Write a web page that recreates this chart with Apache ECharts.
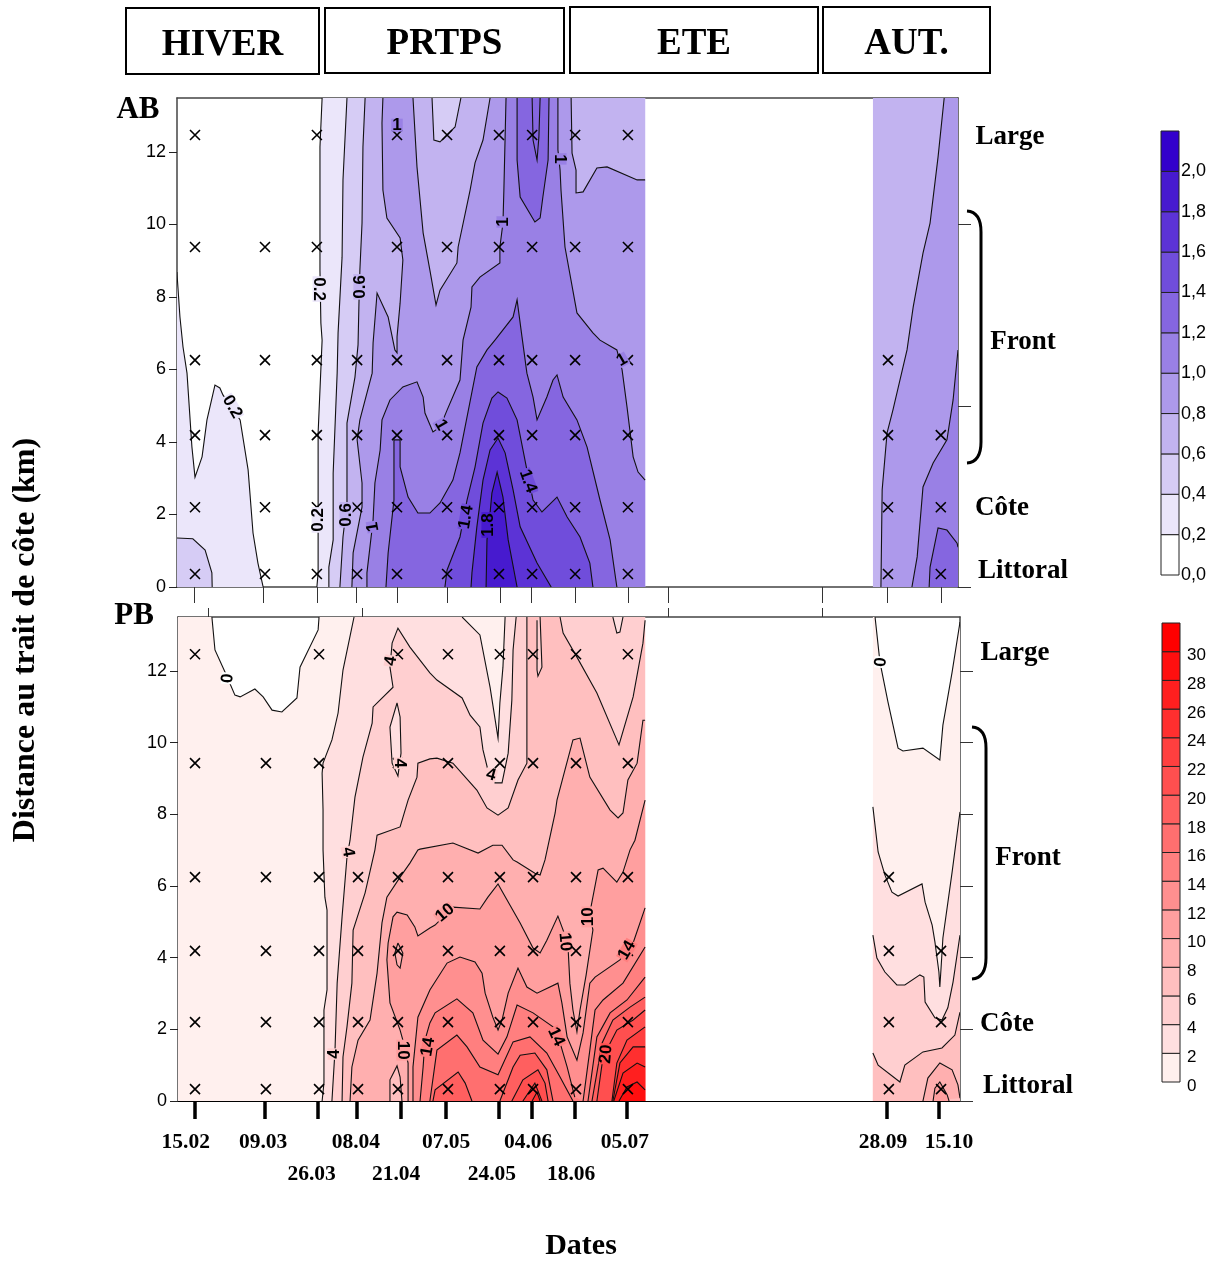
<!DOCTYPE html>
<html><head><meta charset="utf-8">
<style>html,body{margin:0;padding:0;background:#fff}#c{width:1219px;height:1261px}</style>
<script src="https://cdn.jsdelivr.net/npm/echarts@6/dist/echarts.min.js"></script>
</head><body><div id="c"></div>
<script>
// ---------- scales / labels ----------
const abLegendTicks=[0,0.2,0.4,0.6,0.8,1,1.2,1.4,1.6,1.8,2];
const pbLegendTicks=[0,2,4,6,8,10,12,14,16,18,20,22,24,26,28,30];
const abColors=['#ffffff','#ebe6fa','#d6ccf5','#c2b3f0','#ad99eb','#9980e5','#8566e0','#704ddb','#5c33d6','#471acf','#3300cc'];
const pbColors=['#fff0ee','#ffdfe0','#ffcfd0','#ffbfbf','#ffafaf','#ff9f9f','#ff8f8f','#ff7f7f','#ff6f6f','#ff5f5f','#ff4f4f','#ff3f3f','#ff2f2f','#ff1f1f','#ff0f0f','#ff0000'];
const yTicks=[0,2,4,6,8,10,12];
const abRightTicks=[0,5,10];
// day of year of each sampling date
const abTickDays=[45.7,68.2,85.7,98.4,111.8,128.1,145.3,155.4,169.8,187,271.4,289];
const abExtraTicks=[200,250.2];
const pbTopTicks=[50.2,100.4,200,250.2];
const pbTickDays=[46,68.8,86.1,98.8,113.1,127.8,145,155.8,169.8,186.7,271.4,288.3];
const dateRow1=[['15.02',43],['09.03',68.2],['08.04',98.4],['07.05',127.8],['04.06',154.5],['05.07',186],['28.09',270.1],['15.10',291.6]];
const dateRow2=[['26.03',84],['21.04',111.5],['24.05',142.7],['18.06',168.5]];
// stations: day, number of depths sampled (from the coast outwards)
const abStationDays=[46,68.8,85.7,98.8,111.8,128.1,145,155.8,169.8,187,271.7,288.9];
const pbStationDays=[46,69.1,86.4,99.1,112.1,128.4,145.3,156.1,170.1,187,272,289];
const stationDepthCount=[6,5,6,4,6,6,6,6,6,6,4,3];
const abDepths=[0.36,2.2,4.19,6.26,9.38,12.47];
const pbDepths=[0.33,2.2,4.19,6.25,9.43,12.47];

// ---------- AB contours (day, km) ----------
const abTop=13.49,abEnd=192.6,abL=40.14,abR=294.5,abRS=266.8;
const ab02a=[[40.1,8.69],[41.1,7.45],[42.1,6.62],[43.4,5.9],[45,3.86],[46,3.03],[48.3,3.59],[49.9,4.61],[52.5,5.57],[54.1,5.49],[55.1,5.3],[60.7,4.61],[63.3,3.23],[64.9,1.49],[66.5,.66],[68.2,0]];
const ab04a=[[40.1,1.35],[45.3,1.33],[49.3,1.02],[51.5,.39],[51.6,0]];
const ab02=[[87.4,13.49],[86.7,12.14],[86.7,8.74],[87,7.28],[87.4,6.81],[86.1,4.25],[86.1,2.21],[86.1,.39],[85.7,0]];
const ab04=[[95.5,13.49],[94.2,11.23],[93.9,9.1],[92.6,7.01],[92.3,5.9],[91,3.14],[91,1.3],[89.6,.55],[89.6,0]];
const ab06=[[101.4,13.49],[100.7,12.14],[100.4,10.04],[99.7,8.74],[99.4,7.83],[99.1,6.68],[98.1,5.79],[95.5,4.52],[95.5,2.32],[94.2,1.38],[93.2,0]];
const ab06hole=[[123.2,13.49],[123.8,12.33],[125.8,12.28],[130.7,12.69],[132.6,13.49]];
const ab08a=[[107.2,13.49],[106.9,12.8],[107.2,10.95],[108.5,10.18],[112.8,9.63],[113.7,9.02],[112.8,7.83],[111.8,6.9],[111.8,6.46],[111.1,6.54],[108.9,7.45],[105.3,8.11],[104,6.73],[103.7,5.9],[99.7,4.61],[98.8,4.06],[100.4,2.87],[100.4,2.21],[97.5,.94],[97.1,0]];
const ab08b=[[192.6,11.23],[190,11.23],[180.2,11.59],[176.9,11.56],[172.4,10.9],[170.1,10.87],[170.1,11.5],[168.8,11.97],[168.5,13.49]];
const ab08c=[[142.1,13.49],[139.8,12.33],[137.2,11.7],[135.6,10.95],[131.7,9.38],[131.3,8.94],[125.8,8.19],[124.5,7.78],[122.5,8.74],[120.3,9.77],[118.3,11.59],[117,13.49]];
const ab10a=[[102,0],[102,.39],[104,1.85],[104.6,2.87],[106.3,3.78],[106.9,4.61],[109.5,5.16],[113.7,5.52],[118.3,5.66],[120.3,5.24],[120.9,4.8],[123.5,4.28],[125.8,4.41],[128.1,4.88],[132.3,5.71],[133.3,6.81],[135.9,7.72],[136.2,8.28],[138.8,8.55],[145.3,8.94],[145.3,9.38],[146.3,10.04],[146.6,10.95],[147.3,13.49]];
const ab10b=[[164.2,13.49],[164.2,12.06],[164.9,11.5],[165.2,10.95],[166.5,9.38],[170.4,7.56],[175.6,7.01],[177.9,6.81],[183.4,6.54],[185.1,5.99],[186.7,4.97],[188.7,3.59],[190.3,3.17],[192.6,2.95]];
const ab12a=[[108.2,0],[108.9,.94],[110.8,2.4],[110.8,4.06],[112.8,4.06],[112.8,3.31],[115.4,2.48],[118.6,2.04],[122.5,2.04],[125.8,2.32],[130,2.95],[132.3,3.7],[137.8,6.07],[141.1,6.54],[143.7,6.81],[149.6,7.45],[150.9,7.92],[152.5,6.9],[154.1,5.9],[156.1,5.24],[157.4,4.61],[160.6,5.24],[162.6,5.71],[163.9,5.85],[165.9,5.24],[170.4,4.61],[173.7,3.86],[177.9,2.4],[181.2,1.3],[183.4,0]];
const ab12b=[[150.9,13.49],[150.9,11.78],[151.9,10.76],[156.7,10.07],[158.4,10.18],[159.3,10.76],[161,11.78],[161.3,13.49]];
const ab14b=[[155.8,13.49],[156.1,12.33],[157.4,11.78],[158,12.41],[158.4,13.49]];
const ab14=[[127.4,0],[128.1,.47],[132.3,1.38],[134.6,2.4],[137.2,3.31],[139.8,4.52],[142.7,5.21],[144.7,5.38],[147.6,5.21],[150.9,4.61],[154.1,3.23],[156.1,2.4],[159,2.07],[163.9,2.48],[167.2,1.93],[171.4,1.38],[174.6,.66],[175.6,0]];
const ab16=[[135.9,0],[136.2,.39],[137.8,1.66],[139.8,2.95],[142.1,3.78],[144.7,4.11],[147,3.7],[149.6,2.68],[151.9,1.66],[157.4,.66],[162,0]];
const ab18=[[140.8,0],[141.1,1.3],[142.1,2.04],[142.7,2.59],[144.4,3.17],[146.3,2.48],[148,1.3],[150.9,0]];
const ab08R=[[290,13.49],[288,11.86],[285.4,10.04],[283.1,9.21],[279.9,7.72],[277.9,6.54],[273.3,4.88],[271.4,4.25],[269.8,2.68],[269.4,0]];
const ab10R=[[294.5,6.54],[292.9,5.16],[290.9,4.06],[286.4,3.42],[283.1,2.76],[281.2,.83],[279.5,0]];
const ab12R=[[294.5,1.1],[294.2,1.21],[290.9,1.57],[288,1.63],[285.4,.55],[285.1,0]];
const abLabels=[[58.1,4.97,'0.2',-60],[86.4,8.22,'0.2',-90],[99.7,8.28,'0.6',90],[86.1,1.85,'0.2',90],[95.2,1.99,'0.6',90],[104,1.66,'1',100],[111.8,12.74,'1',0],[126.1,4.47,'1',-60],[146.3,10.07,'1',90],[164.9,11.81,'1',-90],[185.1,6.26,'1',30],[134.3,1.93,'1.4',80],[141.4,1.71,'1.8',90],[154.4,2.92,'1.4',-70]];

// ---------- PB contours (day, km) ----------
const pbTop=13.51,pbEnd=192.6,pbL=40.46,pbR=295.17,pbRS=266.8;
const pb0=[[51.5,13.51],[52.5,12.59],[55.8,11.97],[59,11.33],[60.7,11.28],[65.5,11.5],[68.2,11.28],[71.1,10.91],[74.3,10.86],[79.2,11.25],[80.2,12.11],[86.1,13.15],[86.4,13.51]];
const pb2=[[97.8,13.51],[94.2,12.03],[92.6,10.83],[90.6,10.08],[87.7,9.43],[87.4,9.15],[87.7,8.12],[87.7,7.01],[88.3,5.69],[89,5.33],[89,3.1],[88,2.54],[88,.5],[87.4,0]];
const pb2t=[[147,13.51],[146.3,12.11],[145.3,11.11],[144.7,10.13],[142.1,11.55],[138.8,13.01],[133,13.51]];
const pb4=[[90.6,0],[91.6,1.42],[92.3,3.29],[93.9,5.14],[95.5,6.81],[96.5,7.28],[98.1,8.48],[100.7,9.6],[103.7,10.55],[104,11],[110.5,11.55],[109.5,12.11],[110.2,12.78],[112.1,13.2],[116,12.67],[122.5,11.95],[124.8,11.75],[133,11.25],[135.6,10.77],[138.8,10.44],[139.8,9.8],[141.4,9.24],[143.7,8.88],[146,8.88],[148,9.71],[149.2,11.19],[149.6,12.59],[150.6,13.51]];
const pb4tongue=[[182.1,13.51],[183.4,13.06],[184.4,13.09],[185.4,13.51]];
const pb4hole=[[111.8,11.11],[109.5,10.44],[110.2,9.43],[112.1,9.07],[113.1,9.71],[112.8,10.72],[111.8,11.11]];
const pb6=[[93.9,0],[94.2,1.23],[95.5,2.07],[97.1,3.29],[97.5,4.77],[101.4,5.81],[104.6,7.01],[105.3,7.42],[112.8,7.65],[115.4,8.4],[118.3,9.04],[118.6,9.43],[122.5,9.55],[124.8,9.57],[130,9.43],[137.8,8.68],[141.1,8.18],[144.7,7.98],[148,8.18],[151.2,8.96],[154.1,9.43],[154.1,13.51]];
const pb6sliver=[[157.4,13.42],[157.4,12.03],[157.7,11.86],[159,12.11],[158.4,13.51]];
const pb6b=[[164.9,13.51],[165.9,13.06],[170.4,12.39],[176.9,11.39],[183.4,10.08],[184.1,9.94],[188.7,11.28],[191.9,12.78],[192.6,13.42]];
const pb8=[[96.5,0],[97.1,.95],[99.1,1.7],[103,2.26],[105.3,3.57],[106.9,4.97],[108.5,5.69],[112.8,6.25],[116,6.64],[118.6,7.01],[119.3,7.03],[130,7.2],[138.2,6.92],[143,7.14],[146,7.14],[149.6,6.73],[150.9,6.67],[156.7,6.36],[158.4,6.31],[160,6.73],[163.3,8.04],[163.9,8.4],[166.5,9.24],[169.1,10.08],[171.4,10.13],[174.6,9.04],[181.2,8.12],[183.8,7.9],[185.4,8.04],[187,8.96],[190,9.43],[191.9,10.63],[192.6,10.63]];
const pb8hole=[[109.5,0],[109.5,.59],[111.8,.98],[112.8,.67],[113.4,0]];
const pb10=[[115.4,0],[115.4,1.06],[113.7,1.7],[112.8,1.98],[109.5,2.74],[108.5,3.94],[108.9,4.41],[110.5,5.14],[111.8,5.27],[115.1,5.19],[117.6,4.86],[118.6,4.61],[122.5,4.83],[124.2,4.91],[130,5.41],[138.8,5.36],[141.4,5.69],[144.7,6.06],[146.3,5.81],[151.9,4.97],[156.1,4.27],[158.4,4.13],[160.6,4.49],[164.2,5.16],[165.9,4.77],[167.5,4.3],[168.1,3.29],[169.1,2.54],[170.4,1.93],[171.4,2.54],[173.4,3.52],[175.6,4.77],[174.6,5.25],[177.3,6.45],[178.9,6.5],[183.4,6.11],[185.4,6.39],[187.7,7.01],[189.3,7.28],[192.6,8.4]];
const pb10hole=[[112.1,4.41],[111.1,4.13],[111.8,3.8],[112.8,3.71],[113.7,4.13],[112.1,4.41]];
const pb12=[[117,0],[117,.95],[118.6,2.34],[122.5,3.1],[128.1,3.85],[132.3,4.02],[137.2,3.88],[139.5,3.57],[140.5,3.01],[143,2.34],[144.7,1.98],[146,2.26],[148,3.01],[151.2,3.71],[154.1,3.18],[157.4,3.01],[164.2,3.29],[165.5,2.74],[167.2,1.79],[170.4,1.14],[172.4,1.9],[174.6,3.29],[176.3,3.46],[184.4,3.94],[188.7,4.41],[192.6,5.39]];
const pb14a=[[119.3,0],[120.3,.95],[120.9,1.7],[122.5,2.18],[124.2,2.46],[131.3,2.85],[136.5,2.46],[139.8,1.7],[144.7,1.31],[147.6,1.79],[150.9,2.68],[156.1,2.46],[162.6,2.07],[164.9,1.62],[167.2,.95],[169.7,.11]];
const pb14b=[[172.4,0],[174.6,1.42],[176.3,2.54],[178.9,2.82],[185.4,3.29],[192.6,4.3]];
const pb16a=[[122.5,0],[124.8,1.42],[131.3,1.84],[134.6,1.51],[138.8,.95],[144.7,.73],[149.6,1.65],[155.1,1.79],[160.6,1.34],[164.9,.67],[169.1,0]];
const pb16b=[[174,0],[176.9,1.79],[181.2,2.46],[186.7,2.82],[192.6,3.46]];
const pb18a=[[123.5,0],[124.2,.31],[131.7,.81],[134,.5],[136.2,0]];
const pb18b=[[145.3,0],[149.6,.95],[151.9,1.28],[156.7,1.34],[160.6,.87],[162.6,0]];
const pb18c=[[175.3,0],[178.6,1.62],[182.1,2.26],[187.7,2.62],[192.6,2.9]];
const pb20b=[[149.2,0],[152.8,.59],[157.7,.87],[160,.5],[161,0]];
const pb20c=[[176.9,0],[178.9,1.23],[183.4,1.98],[188.7,2.26],[192.6,2.54]];
const pb22b=[[152.8,0],[156.7,.5],[159,0]];
const pb22c=[[181.8,0],[183.4,1.06],[186.7,1.7],[192.6,2.07]];
const pb24b=[[155.8,0],[157.4,.25],[158.4,0]];
const pb24c=[[182.1,0],[184.4,1.06],[188.7,1.51],[192.6,1.51]];
const pb26c=[[182.4,0],[185.4,.78],[190,1.06],[192.6,.95]];
const pb28c=[[184.1,0],[186.7,.39],[190,.53],[192.6,.31]];
const pb0R=[[267.5,13.51],[269.1,12.25],[271.7,11.14],[275,9.85],[276.6,9.77],[283.1,9.85],[288.6,9.52],[289.6,10.49],[292.6,11.97],[295.17,13.37]];
const pb2R=[[266.8,8.21],[268.5,6.95],[270.7,6.31],[273,5.83],[275,5.72],[282.8,6.06],[283.8,5.55],[286.1,4.91],[287,4.44],[288.3,3.6],[288.6,3.18],[289,3.71],[289.6,4.55],[292.6,6.39],[295.17,8.07]];
const pb4R=[[266.8,4.63],[268.1,3.99],[270.7,3.6],[274.6,3.24],[277.2,3.24],[282.1,3.52],[283.4,3.46],[283.8,2.76],[287,2.32],[289.3,2.26],[291.2,2.6],[292.9,3.32],[295.17,4.63]];
const pb6R=[[266.8,1.34],[268.5,1],[275.6,.53],[277.2,1],[283.1,1.37],[289.3,1.48],[293.5,1.84],[295.17,2.48]];
const pb8R=[[283.1,0],[284.7,.64],[288.6,1.06],[292.6,.87],[294.5,.45],[295.17,.08]];
const pb10R=[[286.4,0],[287,.36],[288.6,.53],[291,.17],[291.6,0]];
const pbLabels=[[56.7,11.8,'0',85],[109.8,12.28,'4',80],[112.8,9.43,'4',-90],[95.8,6.95,'4',-80],[91.3,1.31,'4',90],[142.4,9.1,'4',-15],[127.4,5.25,'10',40],[113.7,1.42,'10',-90],[121.9,1.51,'14',80],[163.6,1.79,'14',-65],[166.5,4.44,'10',-85],[174,5.14,'10',90],[186.7,4.21,'14',60],[179.9,1.31,'20',85],[269.4,12.25,'0',85]];

// ---------- rings: colour band + boundary pieces (one-point pieces are unstroked corners) ----------
const R=(c,...segs)=>({c,segs});
const abRings=[
 R(1,ab02a,[[abL,0]]),
 R(2,ab04a,[[abL,0]]),
 R(1,ab02,[[abEnd,0]],[[abEnd,abTop]]),
 R(2,ab04,[[abEnd,0]],[[abEnd,abTop]]),
 R(3,ab06,[[abEnd,0]],[[abEnd,abTop]]),
 R(2,ab06hole),
 R(4,ab08a,[[abEnd,0]],ab08b,ab08c),
 R(5,ab10a,ab10b,[[abEnd,0]]),
 R(6,ab12a),
 R(6,ab12b),
 R(6,ab14b),
 R(7,ab14),R(8,ab16),R(9,ab18),
 R(3,[[abRS,0]],[[abRS,abTop]],[[abR,abTop]],[[abR,0]]),
 R(4,ab08R,[[abR,0]],[[abR,abTop]]),
 R(5,ab10R,[[abR,0]]),
 R(6,ab12R,[[abR,0]])
];
const pbRings=[
 R(0,pb0,[[pbEnd,pbTop]],[[pbEnd,0]],[[pbL,0]],[[pbL,pbTop]]),
 R(1,pb2,[[pbEnd,0]],[[pbEnd,pbTop]],pb2t),
 R(2,pb4,[[pbEnd,pbTop]],[[pbEnd,0]]),
 R(1,pb4tongue),R(1,pb4hole),
 R(3,pb6,pb6b,[[pbEnd,0]]),
 R(2,pb6sliver),
 R(4,pb8,[[pbEnd,0]]),
 R(3,pb8hole),
 R(5,pb10,[[pbEnd,0]]),
 R(4,pb10hole),
 R(6,pb12,[[pbEnd,0]]),
 R(7,pb14a,pb14b,[[pbEnd,0]]),
 R(8,pb16a,pb16b,[[pbEnd,0]]),
 R(9,pb18a),R(9,pb18b),R(9,pb18c,[[pbEnd,0]]),
 R(10,pb20b),R(10,pb20c,[[pbEnd,0]]),
 R(11,pb22b),R(11,pb22c,[[pbEnd,0]]),
 R(12,pb24b),R(12,pb24c,[[pbEnd,0]]),
 R(13,pb26c,[[pbEnd,0]]),
 R(14,pb28c,[[pbEnd,0]]),
 R(0,pb0R,[[pbR,0]],[[pbRS,0]],[[pbRS,pbTop]]),
 R(1,pb2R,[[pbR,0]],[[pbRS,0]]),
 R(2,pb4R,[[pbR,0]],[[pbRS,0]]),
 R(3,pb6R,[[pbR,0]],[[pbRS,0]]),
 R(4,pb8R),
 R(5,pb10R)
];

// ---------- drawing ----------
const SERIF="'Liberation Serif',serif", SANS="'Liberation Sans',sans-serif";
function ringSeries(rings,colors,idx){
 return {type:'custom',coordinateSystem:'cartesian2d',xAxisIndex:idx,yAxisIndex:idx,silent:true,clip:true,z:2,
  data:rings.map((r,i)=>[i,0]),
  renderItem(p,api){
   const r=rings[p.dataIndex];
   const toPx=s=>s.map(q=>api.coord(q));
   const kids=[{type:'polygon',shape:{points:toPx(r.segs.flat(1))},style:{fill:colors[r.c],stroke:null}}];
   r.segs.forEach(s=>{if(s.length>1)kids.push({type:'polyline',shape:{points:toPx(s)},style:{fill:null,stroke:'#111',lineWidth:1.1}});});
   return {type:'group',children:kids};
  }};
}
function crossSeries(days,depths,idx){
 const d=[];days.forEach((x,i)=>{for(let k=0;k<stationDepthCount[i];k++)d.push([x,depths[k]]);});
 return {type:'scatter',xAxisIndex:idx,yAxisIndex:idx,silent:true,z:5,data:d,symbol:'path://M0 0L10 10M10 0L0 10',symbolSize:10,
  itemStyle:{color:'none',borderColor:'#000',borderWidth:1.6,opacity:1}};
}
function labelSeries(labels,idx,bg){
 return {type:'scatter',xAxisIndex:idx,yAxisIndex:idx,silent:true,z:6,symbolSize:0,clip:false,itemStyle:{opacity:1},
  data:labels.map(l=>({value:[l[0],l[1]],name:l[2],label:{rotate:l[3],backgroundColor:bg(l[2])}})),
  label:{show:true,opacity:1,position:'inside',formatter:p=>p.name,fontFamily:SANS,fontWeight:'bold',fontSize:17,color:'#000',lineHeight:13,padding:[0,1]}};
}
function dateSeries(rows,dy){
 return {type:'scatter',xAxisIndex:1,yAxisIndex:1,silent:true,z:6,symbolSize:0,clip:false,itemStyle:{opacity:1},
  data:rows.map(r=>({value:[r[1],0],name:r[0]})),
  label:{show:true,opacity:1,position:'inside',offset:[0,dy],formatter:p=>p.name,fontFamily:SERIF,fontWeight:'bold',fontSize:21.5,color:'#000'}};
}
function barSeries(ticks,colors,top,idx){
 const edges=ticks.concat([top]);
 return {type:'custom',coordinateSystem:'cartesian2d',xAxisIndex:idx,yAxisIndex:idx,silent:true,
  data:ticks.map((t,i)=>[0,t]),
  renderItem(p,api){
   const i=p.dataIndex,a=api.coord([0,edges[i]]),b=api.coord([1,edges[i+1]]);
   return {type:'rect',shape:{x:a[0],y:b[1],width:b[0]-a[0],height:a[1]-b[1]},style:{fill:colors[i],stroke:'#222',lineWidth:1}};
  }};
}
const grids=[
 {left:177,width:781,top:98,height:489},
 {left:178,width:782,top:617,height:484},
 {left:1161,width:18,top:131,height:444},
 {left:1162,width:18,top:623,height:459}
];
const AL={show:true,onZero:false,lineStyle:{color:'#444',width:1.5}};
function xAxes(){return [
 {gridIndex:0,type:'value',min:abL,max:abR,axisLine:AL,splitLine:{show:false},
  axisTick:{show:true,length:16,customValues:abTickDays.concat(abExtraTicks),lineStyle:{color:'#333',width:1}},axisLabel:{show:false}},
 {gridIndex:1,type:'value',min:pbL,max:pbR,axisLine:{show:true,onZero:false,lineStyle:{color:'#000',width:1}},splitLine:{show:false},
  axisTick:{show:true,length:18,customValues:pbTickDays,lineStyle:{color:'#000',width:3.5}},axisLabel:{show:false}},
 {gridIndex:2,type:'value',min:0,max:1,show:false},
 {gridIndex:3,type:'value',min:0,max:1,show:false},
 {gridIndex:0,type:'value',position:'top',min:abL,max:abR,axisLine:AL,axisTick:{show:false},axisLabel:{show:false},splitLine:{show:false}},
 {gridIndex:1,type:'value',position:'top',min:pbL,max:pbR,axisLine:AL,axisTick:{show:true,length:9,customValues:pbTopTicks,lineStyle:{color:'#333',width:1}},axisLabel:{show:false},splitLine:{show:false}}
];}
function leftY(g,max){return {gridIndex:g,type:'value',min:0,max:max,interval:2,axisLine:AL,splitLine:{show:false},
 axisTick:{show:true,length:8,customValues:yTicks,lineStyle:{color:'#222'}},
 axisLabel:{show:true,margin:11,fontFamily:SANS,fontSize:18,color:'#000',customValues:yTicks,formatter:v=>String(v)}};}
const yAxes=[
 leftY(0,abTop),
 leftY(1,pbTop),
 {gridIndex:2,type:'value',min:0,max:2.2,position:'right',interval:0.2,axisLine:{show:false},axisTick:{show:false},splitLine:{show:false},
  axisLabel:{show:true,margin:2,fontFamily:SANS,fontSize:18,color:'#000',customValues:abLegendTicks,formatter:v=>v.toFixed(1).replace('.',',')}},
 {gridIndex:3,type:'value',min:0,max:32,position:'right',interval:2,axisLine:{show:false},axisTick:{show:false},splitLine:{show:false},
  axisLabel:{show:true,margin:7,customValues:pbLegendTicks,formatter:v=>'{a|'+v+'}',
   rich:{a:{padding:[8,0,0,0],fontFamily:SANS,fontSize:17,color:'#000'}}}},
 {gridIndex:0,type:'value',position:'right',min:0,max:abTop,interval:5,axisLine:AL,splitLine:{show:false},
  axisTick:{show:true,length:13,customValues:abRightTicks,lineStyle:{color:'#333'}},axisLabel:{show:false}},
 {gridIndex:1,type:'value',position:'right',min:0,max:pbTop,interval:2,axisLine:AL,splitLine:{show:false},
  axisTick:{show:true,length:13,customValues:yTicks,lineStyle:{color:'#333'}},axisLabel:{show:false}}
];
function T(text,x,y,size,extra){return Object.assign({type:'text',x,y,z:10,silent:true,
 style:{text,font:`bold ${size}px ${SERIF}`,fill:'#000',align:'center',verticalAlign:'middle'}},extra||{});}
function box(x,y,w,h,t){return [
 {type:'rect',shape:{x,y,width:w,height:h},z:9,silent:true,style:{fill:'#fff',stroke:'#000',lineWidth:2}},
 T(t,x+w/2,y+h/2+4,37)];}
function brace(x,y1,y2){const S={fill:null,stroke:'#000',lineWidth:3};return [
 {type:'bezierCurve',z:9,silent:true,shape:{x1:x,y1:y1,x2:x+14,y2:y1+21,cpx1:x+14,cpy1:y1+1},style:S},
 {type:'line',z:9,silent:true,shape:{x1:x+14,y1:y1+21,x2:x+14,y2:y2-21},style:S},
 {type:'bezierCurve',z:9,silent:true,shape:{x1:x+14,y1:y2-21,x2:x,y2:y2,cpx1:x+14,cpy1:y2-1},style:S}];}
const graphic=[].concat(
 box(126,8,193,66,'HIVER'),box(325,8,239,65,'PRTPS'),box(570,7,248,66,'ETE'),box(823,7,167,66,'AUT.'),
 [T('AB',138,110,31),T('PB',134,616,31),
  T('Large',1010,137,27),T('Front',1023,342,27),T('Côte',1002,508,27),T('Littoral',1023,571,27),
  T('Large',1015,653,27),T('Front',1028,858,27),T('Côte',1007,1024,27),T('Littoral',1028,1086,27),
  T('Dates',581,1246,30),
  T('Distance au trait de côte (km)',26,640,32,{rotation:Math.PI/2})],
 brace(967,211,463),brace(972,727,979));
const abBg=t=>abColors[Math.round(parseFloat(t)*5)];
const pbBg=t=>t==='0'?'#ffffff':pbColors[parseInt(t)/2];
const chart=echarts.init(document.getElementById('c'),null,{renderer:'canvas'});
chart.setOption({animation:false,backgroundColor:'#fff',grid:grids,xAxis:xAxes(),yAxis:yAxes,graphic,
 series:[
  ringSeries(abRings,abColors,0),ringSeries(pbRings,pbColors,1),
  crossSeries(abStationDays,abDepths,0),crossSeries(pbStationDays,pbDepths,1),
  labelSeries(abLabels,0,abBg),labelSeries(pbLabels,1,pbBg),
  dateSeries(dateRow1,41),dateSeries(dateRow2,73),
  barSeries(abLegendTicks,abColors,2.2,2),barSeries(pbLegendTicks,pbColors,32,3)
 ]});
</script></body></html>
